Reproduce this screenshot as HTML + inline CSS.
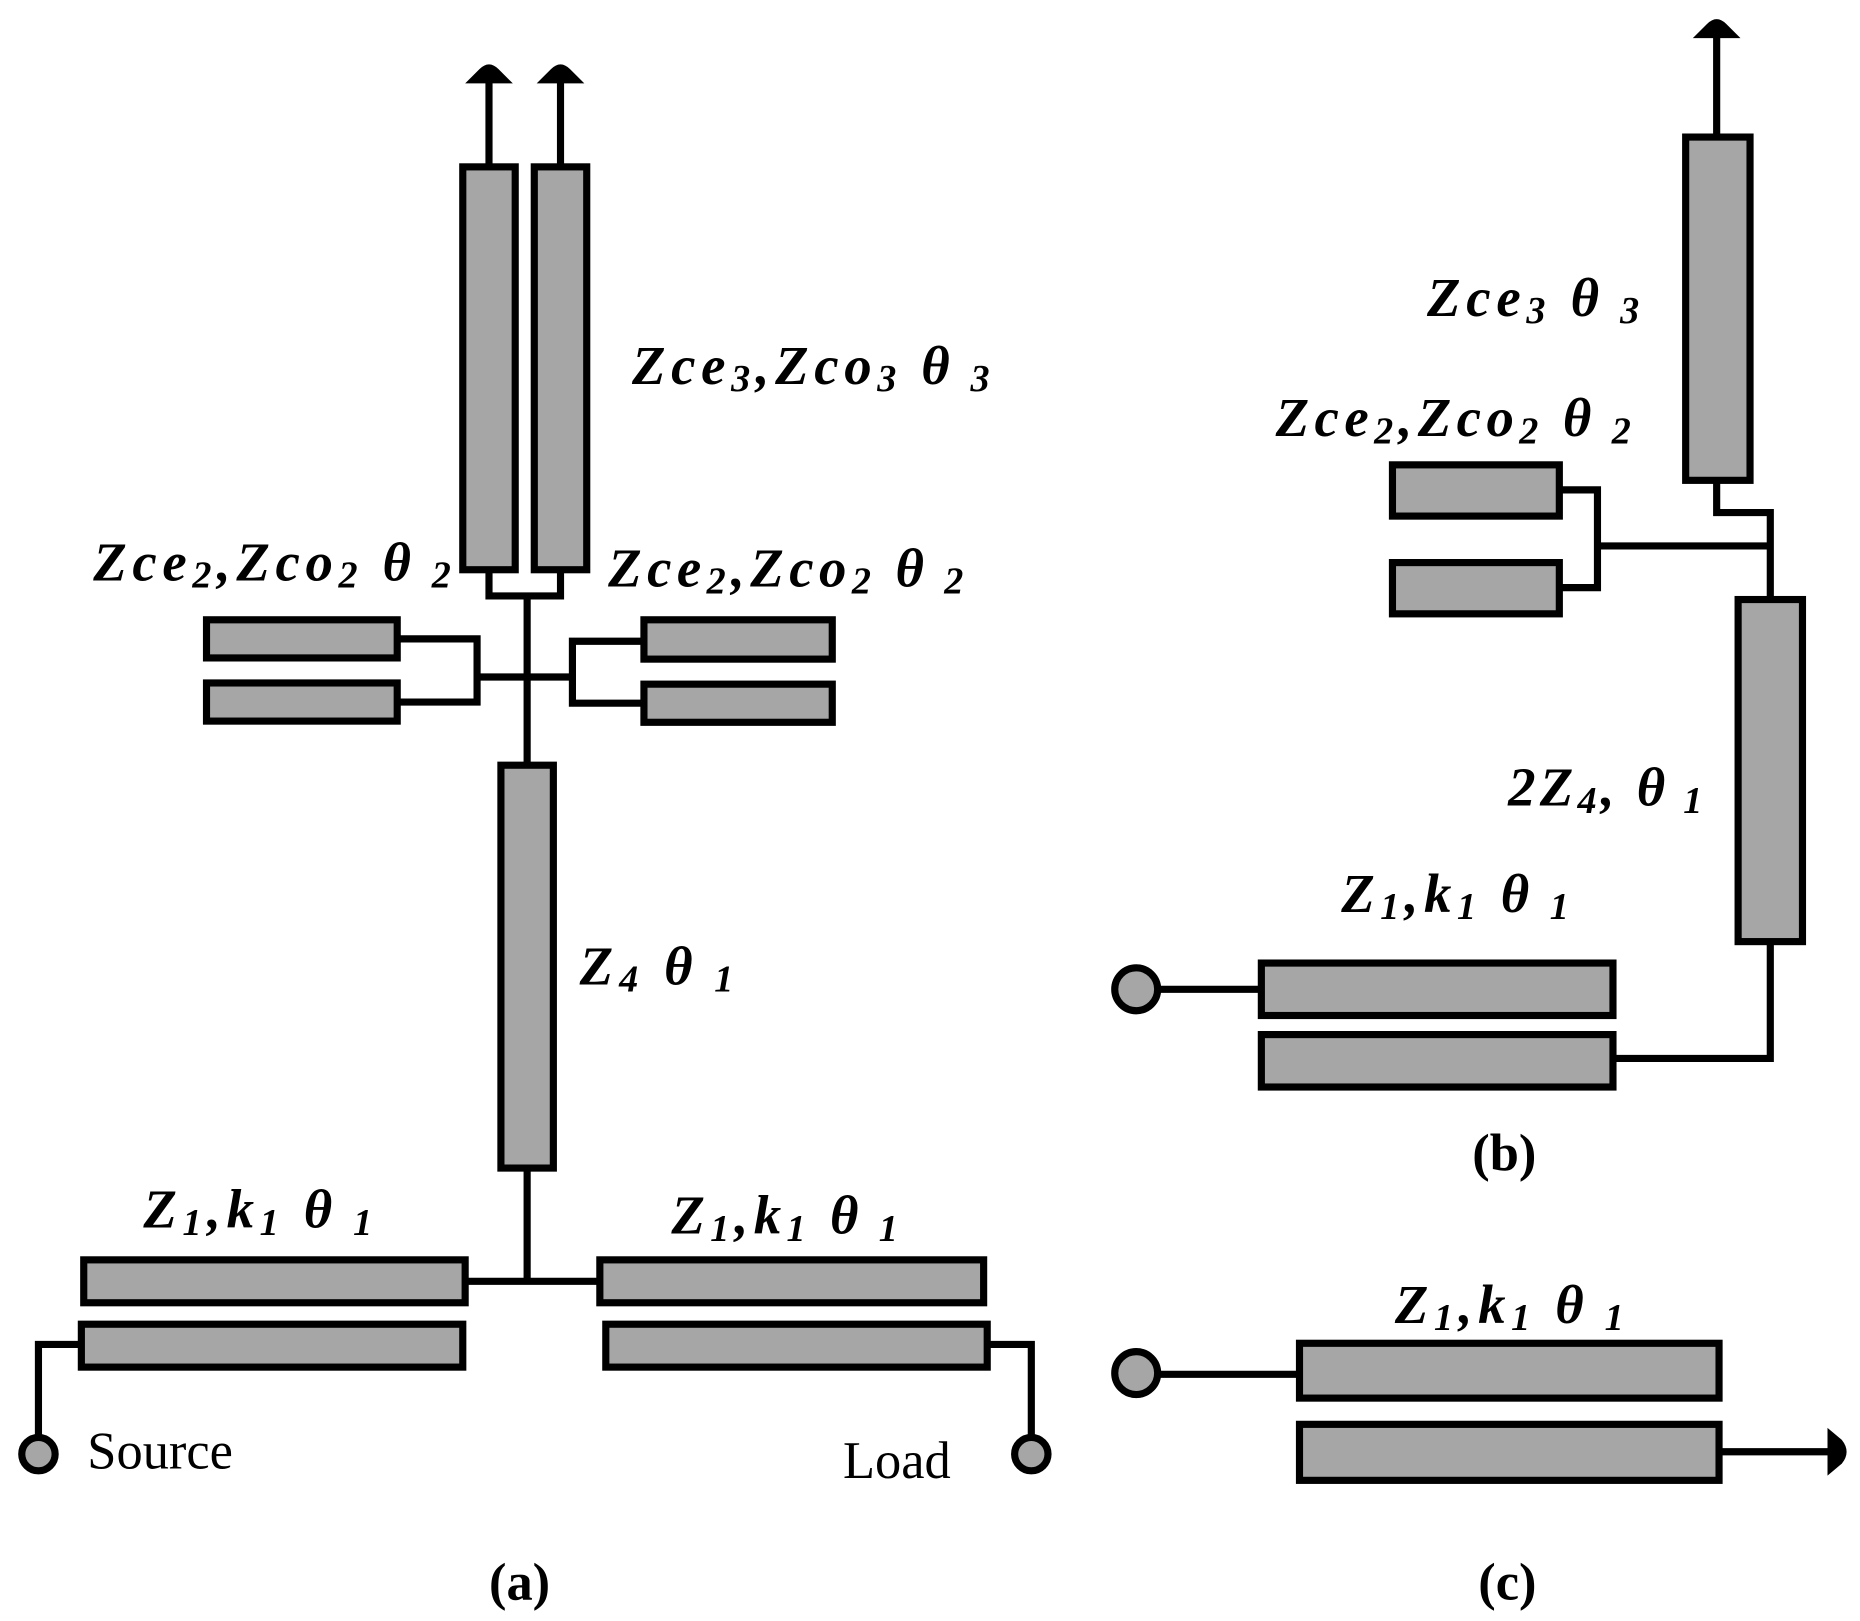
<!DOCTYPE html>
<html><head><meta charset="utf-8"><style>html,body{margin:0;padding:0;background:#fff}svg{display:block}</style></head>
<body>
<svg width="1860" height="1621" viewBox="0 0 1560 1360" xmlns="http://www.w3.org/2000/svg">
<g fill="#a6a6a6" stroke="#000" stroke-width="6">
<!-- (a) -->
<rect x="388" y="140" width="44" height="338"/>
<rect x="448" y="140" width="44" height="338"/>
<rect x="173" y="520" width="160" height="32"/>
<rect x="173" y="573" width="160" height="32"/>
<rect x="540" y="520" width="158" height="33"/>
<rect x="540" y="574" width="158" height="32"/>
<rect x="420" y="642" width="44" height="338"/>
<rect x="70" y="1057" width="320" height="36"/>
<rect x="68" y="1111" width="320" height="36"/>
<rect x="503" y="1057" width="322" height="36"/>
<rect x="508" y="1111" width="320" height="36"/>
<circle cx="32" cy="1220" r="14"/>
<circle cx="865" cy="1220" r="14"/>
<!-- (b) -->
<rect x="1414" y="115" width="54" height="288"/>
<rect x="1458" y="503" width="54" height="287"/>
<rect x="1168" y="390" width="140" height="43"/>
<rect x="1168" y="472" width="140" height="43"/>
<rect x="1058" y="808" width="295" height="44"/>
<rect x="1058" y="868" width="295" height="44"/>
<circle cx="953" cy="830" r="18"/>
<!-- (c) -->
<rect x="1090" y="1127" width="352" height="46"/>
<rect x="1090" y="1195" width="352" height="47"/>
<circle cx="953" cy="1152" r="18"/>
</g>
<g fill="none" stroke="#000" stroke-width="6">
<path d="M410 66V140M470 66V140"/>
<path d="M410 478V500H470V478M442 500V642"/>
<path d="M333 536H400V589H333M400 568H480M540 538H480V590H540"/>
<path d="M442 980V1075M390 1075H503"/>
<path d="M68 1128H32V1206M828 1128H865V1206"/>
<path d="M1440 30V115M1440 403V430H1485V503M1308 411H1340V493H1308M1340 458H1485"/>
<path d="M1485 790V888H1353M971 830H1058"/>
<path d="M971 1153H1090M1442 1218H1535"/>
</g>
<g fill="#000">
<path d="M390 70L402 58Q410 50 418 58L430 70Z"/>
<path d="M450 70L462 58Q470 50 478 58L490 70Z"/>
<path d="M1420 32L1432 20Q1440 12 1448 20L1460 32Z"/>
<path d="M1533 1198L1545 1208Q1553 1218 1545 1228L1533 1238Z"/>
</g>
<g font-family="Liberation Serif, serif" font-weight="bold" font-style="italic" font-size="46" fill="#000">
<text x="530" y="322" textLength="300" lengthAdjust="spacing">Zce<tspan font-size="32" dy="6">3</tspan><tspan dy="-6">,Zco</tspan><tspan font-size="32" dy="6">3</tspan><tspan dy="-6">  θ</tspan><tspan font-size="32" dy="6"> 3</tspan></text>
<text x="78" y="487" textLength="300" lengthAdjust="spacing">Zce<tspan font-size="32" dy="6">2</tspan><tspan dy="-6">,Zco</tspan><tspan font-size="32" dy="6">2</tspan><tspan dy="-6">  θ</tspan><tspan font-size="32" dy="6"> 2</tspan></text>
<text x="510" y="492" textLength="298" lengthAdjust="spacing">Zce<tspan font-size="32" dy="6">2</tspan><tspan dy="-6">,Zco</tspan><tspan font-size="32" dy="6">2</tspan><tspan dy="-6">  θ</tspan><tspan font-size="32" dy="6"> 2</tspan></text>
<text x="486" y="826" textLength="129" lengthAdjust="spacing">Z<tspan font-size="32" dy="6">4</tspan><tspan dy="-6">  θ</tspan><tspan font-size="32" dy="6"> 1</tspan></text>
<text x="120" y="1030" textLength="192" lengthAdjust="spacing">Z<tspan font-size="32" dy="6">1</tspan><tspan dy="-6">,k</tspan><tspan font-size="32" dy="6">1</tspan><tspan dy="-6">  θ</tspan><tspan font-size="32" dy="6"> 1</tspan></text>
<text x="563" y="1035" textLength="190" lengthAdjust="spacing">Z<tspan font-size="32" dy="6">1</tspan><tspan dy="-6">,k</tspan><tspan font-size="32" dy="6">1</tspan><tspan dy="-6">  θ</tspan><tspan font-size="32" dy="6"> 1</tspan></text>
<text x="1197" y="265" textLength="178" lengthAdjust="spacing">Zce<tspan font-size="32" dy="6">3</tspan><tspan dy="-6">  θ</tspan><tspan font-size="32" dy="6"> 3</tspan></text>
<text x="1070" y="366" textLength="298" lengthAdjust="spacing">Zce<tspan font-size="32" dy="6">2</tspan><tspan dy="-6">,Zco</tspan><tspan font-size="32" dy="6">2</tspan><tspan dy="-6">  θ</tspan><tspan font-size="32" dy="6"> 2</tspan></text>
<text x="1265" y="676" textLength="163" lengthAdjust="spacing">2Z<tspan font-size="32" dy="6">4</tspan><tspan dy="-6">,  θ</tspan><tspan font-size="32" dy="6"> 1</tspan></text>
<text x="1125" y="765" textLength="191" lengthAdjust="spacing">Z<tspan font-size="32" dy="6">1</tspan><tspan dy="-6">,k</tspan><tspan font-size="32" dy="6">1</tspan><tspan dy="-6">  θ</tspan><tspan font-size="32" dy="6"> 1</tspan></text>
<text x="1170" y="1110" textLength="192" lengthAdjust="spacing">Z<tspan font-size="32" dy="6">1</tspan><tspan dy="-6">,k</tspan><tspan font-size="32" dy="6">1</tspan><tspan dy="-6">  θ</tspan><tspan font-size="32" dy="6"> 1</tspan></text>
</g>
<g font-family="Liberation Serif, serif" font-size="44" fill="#000">
<text x="73" y="1232">Source</text>
<text x="707" y="1240">Load</text>
<text x="410" y="1342" font-weight="bold">(a)</text>
<text x="1235" y="982" font-weight="bold">(b)</text>
<text x="1240" y="1342" font-weight="bold">(c)</text>
</g>
</svg>
</body></html>
